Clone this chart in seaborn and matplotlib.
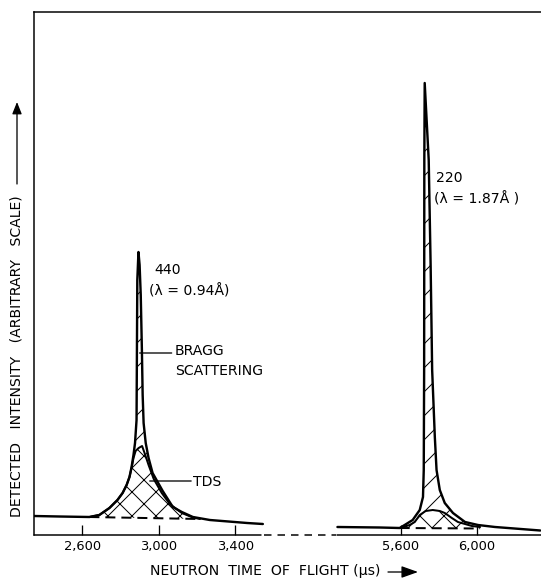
import numpy as np
import pandas as pd
import seaborn as sns
import matplotlib.pyplot as plt
from matplotlib.patches import FancyArrowPatch

# 440 reflection (lambda = 0.94 A) -- total detected intensity
left_tof = [2347, 2479, 2637, 2689, 2742, 2784, 2811, 2832, 2847, 2858, 2868, 2876, 2884, 2886,
            2888, 2894, 2900, 2906, 2912, 2916, 2921, 2932, 2947, 2968, 3021, 3074, 3121, 3179,
            3268, 3463, 3547]
left_total = [19, 18.5, 18, 20, 27, 35, 42, 50, 58, 68, 80, 92, 115, 185,
              255, 283, 270, 240, 185, 140, 112, 92, 77, 62, 44, 28, 23, 18,
              15, 12, 11]
# thermal diffuse scattering under the 440 peak
left_tds_tof = [2637, 2689, 2742, 2784, 2811, 2832, 2847, 2858, 2868, 2879, 2895, 2913, 2926,
                2947, 2974, 3016, 3058, 3121, 3179, 3216]
left_tds = [18, 20, 27, 35, 42, 50, 58, 67, 77, 84, 87, 89, 82, 70, 56, 42, 31, 22, 17.5, 16]
left_bg_tof = [2637, 3216]
left_bg = [18, 16]

# 220 reflection (lambda = 1.87 A)
right_tof = [5269, 5490, 5595, 5621, 5663, 5700, 5717, 5721, 5723, 5724, 5726, 5747, 5757,
             5765, 5779, 5788, 5805, 5831, 5874, 5937, 6005, 6094, 6331]
right_total = [8, 7.5, 7, 10, 15, 25, 38, 65, 165, 375, 452, 375, 270,
               165, 98, 65, 45, 32, 22, 13, 10, 8, 4.5]
right_tds_tof = [5595, 5647, 5674, 5700, 5731, 5768, 5805, 5831, 5868, 5900, 5937, 5973, 6016]
right_tds = [7, 10, 13, 20, 24, 25, 24, 22, 17, 13, 11, 9, 8]
right_bg_tof = [5595, 6016]
right_bg = [7, 6.5]

tick_pos = [2600, 3000, 3400, 5600, 6000]
tick_labels = ["2,600", "3,000", "3,400", "5,600", "6,000"]

# broken time axis: squeeze 3545..5268 into a short gap
A, B, G = 3545, 5268, 390
XMIN, XMAX = 2347, 6335


def fwd(x):
    x = np.asarray(x, dtype=float)
    return np.where(x <= A, x, np.where(x >= B, x - (B - A) + G, A + (x - A) * G / (B - A)))


def inv(y):
    y = np.asarray(y, dtype=float)
    return np.where(y <= A, y, np.where(y >= A + G, y + (B - A) - G, A + (y - A) * (B - A) / G))


sns.set_style("white")
plt.rcParams['font.family'] = ['DejaVu Sans']
plt.rcParams['hatch.linewidth'] = 1.0
plt.rcParams['text.color'] = 'black'
plt.rcParams['xtick.color'] = 'black'

fig = plt.figure(figsize=(541 / 72, 580 / 72), dpi=72)
ax = fig.add_axes([34 / 541, 45 / 580, 1 - 34 / 541, 523 / 580])
ax.set_xscale('function', functions=(fwd, inv))

peaks = [
    (left_tof, left_total, left_tds_tof, left_tds, left_bg_tof, left_bg),
    (right_tof, right_total, right_tds_tof, right_tds, right_bg_tof, right_bg),
]
for tof, tot, ttof, tds, btof, bg in peaks:
    tof, tot, ttof, tds = map(np.asarray, (tof, tot, ttof, tds))
    # bragg part: between total and TDS
    m = (tof >= ttof.min()) & (tof <= ttof.max())
    ax.fill(np.r_[tof[m], ttof[::-1]], np.r_[tot[m], tds[::-1]],
            facecolor='none', edgecolor='black', hatch='/', lw=0)
    # TDS part: between TDS and background
    ax.fill(np.r_[ttof, btof[::-1]], np.r_[tds, bg[::-1]],
            facecolor='none', edgecolor='black', hatch='x', lw=0)
    sns.lineplot(x=ttof, y=tds, ax=ax, color='black', lw=2.0, sort=False, estimator=None)
    sns.lineplot(x=btof, y=bg, ax=ax, color='black', lw=2.0, ls=(0, (5, 3)),
                 sort=False, estimator=None)
    sns.lineplot(x=tof, y=tot, ax=ax, color='black', lw=2.4, sort=False, estimator=None)

ax.set_xlim(XMIN, XMAX)
ax.set_ylim(0, 523)
ax.set_yticks([])
ax.set_xticks(tick_pos)
ax.set_xticklabels(tick_labels, fontsize=13)
ax.tick_params(axis='x', direction='in', length=10, width=1.3, pad=5, bottom=True)
ax.set_xlabel("")
ax.set_ylabel("")

for s in ['right', 'bottom']:
    ax.spines[s].set_visible(False)
for s in ['left', 'top']:
    ax.spines[s].set_linewidth(1.5)
    ax.spines[s].set_color('black')

# bottom axis with dashed break
tr = ax.get_xaxis_transform()
ax.plot([XMIN, A - 10], [0, 0], color='black', lw=1.5, transform=tr, clip_on=False)
ax.plot([A + 40, B - 40], [0, 0], color='black', lw=1.5, ls=(0, (5, 4)), transform=tr, clip_on=False)
ax.plot([B, XMAX], [0, 0], color='black', lw=1.5, transform=tr, clip_on=False)

# annotations
ax.text(2975, 265, "440", fontsize=14, ha='left', va='center')
ax.text(2950, 244, "(λ = 0.94Å)", fontsize=14, ha='left', va='center')
ax.text(5784, 357, "220", fontsize=14, ha='left', va='center')
ax.text(5774, 336, "(λ = 1.87Å )", fontsize=14, ha='left', va='center')

ax.annotate("", xy=(2900, 182), xytext=(3068, 182),
            arrowprops=dict(arrowstyle='-', color='black', lw=1.3, shrinkA=0, shrinkB=0))
ax.text(3084, 184, "BRAGG", fontsize=14, ha='left', va='center')
ax.text(3084, 164, "SCATTERING", fontsize=14, ha='left', va='center')

ax.annotate("", xy=(2953, 54), xytext=(3170, 54),
            arrowprops=dict(arrowstyle='-', color='black', lw=1.3, shrinkA=0, shrinkB=0))
ax.text(3179, 53, "TDS", fontsize=14, ha='left', va='center')

# axis titles with arrows
fig.text(17 / 541, 1 - 356 / 580, "DETECTED   INTENSITY   (ARBITRARY   SCALE)",
         rotation=90, ha='center', va='center', fontsize=14)
fig.patches.append(FancyArrowPatch(
    (17 / 541, 1 - 186 / 580), (17 / 541, 1 - 100 / 580), transform=fig.transFigure,
    arrowstyle='-|>,head_length=10,head_width=4', color='black', lw=1.3, mutation_scale=1))
fig.text(265 / 541, 1 - 571 / 580, "NEUTRON  TIME  OF  FLIGHT (μs)",
         ha='center', va='center', fontsize=14)
fig.patches.append(FancyArrowPatch(
    (386 / 541, 1 - 572 / 580), (420 / 541, 1 - 572 / 580), transform=fig.transFigure,
    arrowstyle='-|>,head_length=14,head_width=5', color='black', lw=1.3, mutation_scale=1))

fig.savefig("out.png", dpi=72)
